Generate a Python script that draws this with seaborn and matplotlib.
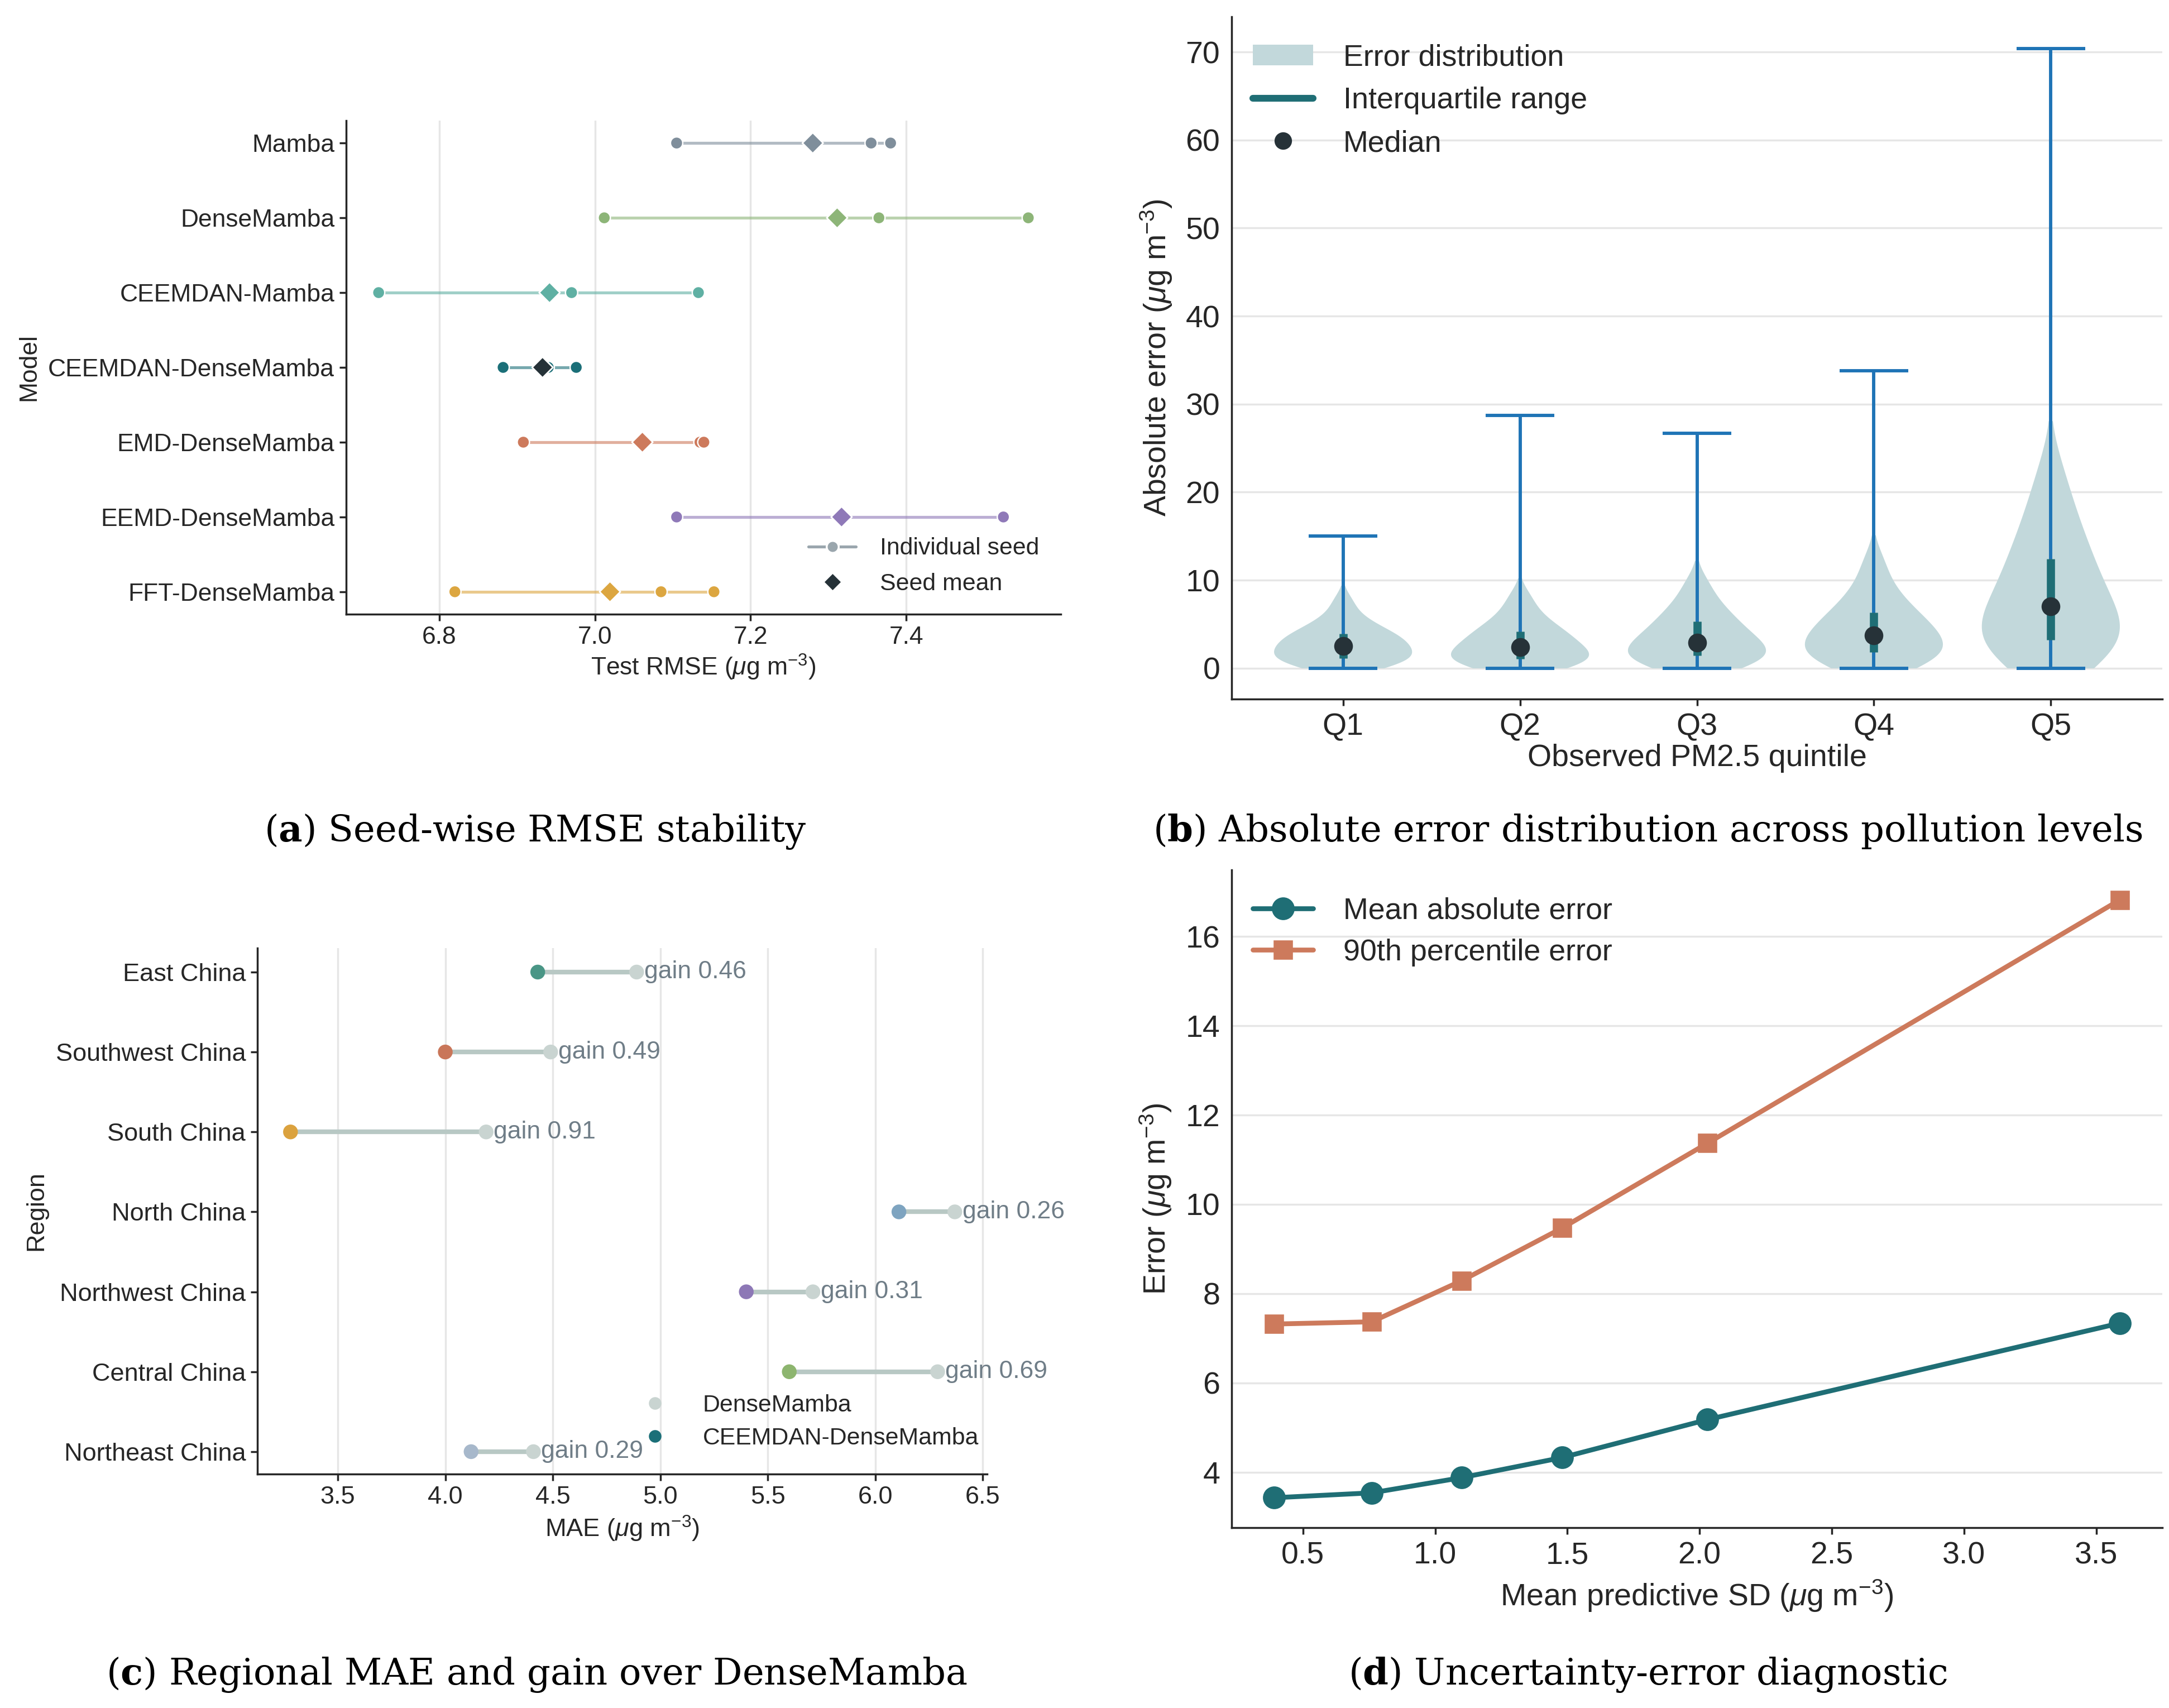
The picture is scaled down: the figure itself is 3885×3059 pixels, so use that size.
import numpy as np
import pandas as pd
import matplotlib
matplotlib.use("Agg")
import matplotlib.pyplot as plt
import seaborn as sns
from matplotlib.lines import Line2D
from matplotlib.patches import Patch, Rectangle

# ---------------- data ----------------
# (a) seed-wise RMSE
models = ["Mamba", "DenseMamba", "CEEMDAN-Mamba", "CEEMDAN-DenseMamba",
          "EMD-DenseMamba", "EEMD-DenseMamba", "FFT-DenseMamba"]
seed_1 = [7.105, 7.012, 6.722, 6.882, 6.908, 7.105, 6.820]
seed_2 = [7.355, 7.365, 6.970, 6.940, 7.135, 7.321, 7.085]
seed_3 = [7.380, 7.557, 7.133, 6.976, 7.140, 7.525, 7.153]
model_colors = ["#7f8e9b", "#8db578", "#5fb0a3", "#1b6f78",
                "#cd7a5c", "#8f79b8", "#dca640"]

# (b) absolute error by observed PM2.5 quintile
quintiles = ["Q1", "Q2", "Q3", "Q4", "Q5"]
# quantile profiles (p2.5 ... p97.5, step 5)
err_q1 = [0.10, 0.30, 0.55, 0.80, 1.00, 1.25, 1.50, 1.80, 2.05, 2.35,
          2.65, 2.95, 3.25, 3.55, 3.75, 4.15, 4.60, 5.20, 6.00, 7.60]
err_q2 = [0.08, 0.25, 0.45, 0.65, 0.85, 1.10, 1.35, 1.60, 1.90, 2.20,
          2.55, 2.90, 3.30, 3.70, 4.00, 4.45, 5.00, 5.70, 6.70, 8.20]
err_q3 = [0.10, 0.35, 0.60, 0.90, 1.15, 1.45, 1.75, 2.05, 2.40, 2.75,
          3.10, 3.50, 3.95, 4.45, 5.00, 5.55, 6.20, 7.00, 8.10, 9.80]
err_q4 = [0.15, 0.45, 0.80, 1.15, 1.50, 1.85, 2.25, 2.70, 3.15, 3.50,
          3.90, 4.35, 4.85, 5.45, 6.00, 6.60, 7.40, 8.50, 9.90, 12.2]
err_q5 = [0.40, 1.00, 1.70, 2.40, 2.90, 3.50, 4.20, 4.90, 5.70, 6.50,
          7.50, 8.50, 9.60, 10.8, 12.0, 13.3, 14.9, 16.8, 19.0, 22.5]
err_min = [0.0, 0.0, 0.0, 0.0, 0.0]
err_max = [15.0, 28.7, 26.7, 33.8, 70.4]
err_p25 = [1.1, 1.05, 1.45, 1.8, 3.2]
err_median = [2.5, 2.4, 2.9, 3.7, 7.0]
err_p75 = [3.9, 4.2, 5.3, 6.3, 12.4]

# (c) regional MAE
regions = ["East China", "Southwest China", "South China", "North China",
           "Northwest China", "Central China", "Northeast China"]
mae_dense = [4.89, 4.49, 4.19, 6.37, 5.71, 6.29, 4.41]
mae_ceemdan = [4.43, 4.00, 3.28, 6.11, 5.40, 5.60, 4.12]
region_colors = ["#4a9686", "#c97659", "#dba23e", "#7ea4c0",
                 "#8d78b6", "#8db56f", "#a7b8cb"]

# (d) uncertainty-error diagnostic
mean_sd = [0.39, 0.76, 1.10, 1.48, 2.03, 3.59]
mae_bin = [3.43, 3.54, 3.88, 4.33, 5.18, 7.34]
p90_bin = [7.32, 7.37, 8.29, 9.47, 11.37, 16.82]

# ---------------- style ----------------
sns.set_theme(style="ticks")
plt.rcParams["font.family"] = ["Liberation Sans", "DejaVu Sans"]
plt.rcParams["mathtext.fontset"] = "custom"
plt.rcParams["mathtext.rm"] = "Liberation Sans"
plt.rcParams["mathtext.it"] = "Liberation Sans:italic"
plt.rcParams["mathtext.bf"] = "DejaVu Serif:bold"
plt.rcParams["axes.edgecolor"] = "#262626"
plt.rcParams["xtick.color"] = "#262626"
plt.rcParams["ytick.color"] = "#262626"

GRID = "#e6e6e6"
W, H = 3885, 3059
fig = plt.figure(figsize=(W / 250, H / 250), dpi=250)


def rect(l, t, r, b):
    return [l / W, 1 - b / H, (r - l) / W, (b - t) / H]


ax_a = fig.add_axes(rect(620, 216, 1900, 1100))
ax_b = fig.add_axes(rect(2206, 30, 3873, 1252))
ax_c = fig.add_axes(rect(461, 1698, 1768, 2640))
ax_d = fig.add_axes(rect(2206, 1558, 3873, 2736))

for ax in (ax_a, ax_b, ax_c, ax_d):
    sns.despine(ax=ax)
    ax.set_axisbelow(True)
    for s in ("left", "bottom"):
        ax.spines[s].set_linewidth(1.0)

# ---------------- (a) ----------------
df_a = pd.DataFrame({
    "model": models * 3,
    "rmse": seed_1 + seed_2 + seed_3,
})
pal_a = dict(zip(models, model_colors))
stats = df_a.groupby("model", sort=False)["rmse"].agg(["min", "max", "mean"]).reindex(models)
for m, c in zip(models, model_colors):
    ax_a.hlines(m, stats.loc[m, "min"], stats.loc[m, "max"], color=c,
                alpha=0.6, lw=1.5, zorder=1)
sns.scatterplot(data=df_a, x="rmse", y="model", hue="model", palette=pal_a,
                s=40, edgecolor="white", linewidth=0.7, legend=False,
                zorder=3, ax=ax_a)
mean_pal = dict(pal_a)
mean_pal["CEEMDAN-DenseMamba"] = "#263238"
df_mean = stats.reset_index()
sns.scatterplot(data=df_mean, x="mean", y="model", hue="model", palette=mean_pal,
                marker="D", s=58, edgecolor="white", linewidth=0.8,
                legend=False, zorder=4, ax=ax_a)
ax_a.set_ylim(6.3, -0.3)
ax_a.margins(x=0.05)
ax_a.set_xticks([6.8, 7.0, 7.2, 7.4])
ax_a.xaxis.grid(True, color=GRID, lw=1.0)
ax_a.set_xlabel(r"Test RMSE ($\mu$g m$^{-3}$)", fontsize=12.8, labelpad=2)
ax_a.set_ylabel("Model", fontsize=12.8, labelpad=4)
ax_a.tick_params(labelsize=12.8, length=3.5, width=1.0, pad=2.5)
leg_a = [
    Line2D([0], [0], color="#9aa6ad", lw=1.5, marker="o", markersize=6.2,
           markerfacecolor="#9aa6ad", markeredgecolor="white"),
    Line2D([0], [0], color="none", marker="D", markersize=6.8,
           markerfacecolor="#263238", markeredgecolor="white"),
]
ax_a.legend(leg_a, ["Individual seed", "Seed mean"], loc="lower right",
            bbox_to_anchor=(1.0, -0.005), frameon=False, fontsize=12.3,
            handlelength=2.0, handletextpad=1.0, labelspacing=0.55)

# ---------------- (b) ----------------
df_b = pd.DataFrame({
    "quintile": np.repeat(quintiles, len(err_q1)),
    "err": err_q1 + err_q2 + err_q3 + err_q4 + err_q5,
})
sns.violinplot(data=df_b, x="quintile", y="err", order=quintiles,
               density_norm="width", width=0.78, cut=1.6, inner=None,
               color="#c2d8db", saturation=1, linewidth=0, ax=ax_b)
clip_rect = Rectangle((-1, 0), 7, 200, transform=ax_b.transData)
for coll in ax_b.collections:
    coll.set_edgecolor("none")
    coll.set_zorder(1)
    coll.set_clip_path(clip_rect)
xs = np.arange(len(quintiles))
ax_b.vlines(xs, err_min, err_max, color="#1f74b6", lw=1.7, zorder=2)
ax_b.hlines(err_max, xs - 0.195, xs + 0.195, color="#1f74b6", lw=1.7, zorder=2)
ax_b.hlines(err_min, xs - 0.195, xs + 0.195, color="#1f74b6", lw=1.7, zorder=2)
ax_b.vlines(xs, err_p25, err_p75, color="#1f6e75", lw=4.2, zorder=3)
ax_b.scatter(xs, err_median, s=75, color="#263238", zorder=4)
ax_b.set_xlim(-0.63, 4.63)
ax_b.set_ylim(-3.5, 74.0)
ax_b.set_yticks(range(0, 71, 10))
ax_b.yaxis.grid(True, color=GRID, lw=1.0)
ax_b.set_xlabel("Observed PM2.5 quintile", fontsize=16, labelpad=1)
ax_b.set_ylabel(r"Absolute error ($\mu$g m$^{-3}$)", fontsize=16, labelpad=6)
ax_b.tick_params(labelsize=16, length=3.5, width=1.0)
ax_b.tick_params(axis="y", length=0, pad=6)
leg_b = [
    Patch(facecolor="#c2d8db", edgecolor="none"),
    Line2D([0], [0], color="#1f6e75", lw=3.5),
    Line2D([0], [0], color="none", marker="o", markersize=8,
           markerfacecolor="#263238", markeredgecolor="#263238"),
]
ax_b.legend(leg_b, ["Error distribution", "Interquartile range", "Median"],
            loc="upper left", bbox_to_anchor=(-0.006, 1.0), frameon=False,
            fontsize=15.5, handlelength=2.0, handletextpad=1.0,
            labelspacing=0.5)

# ---------------- (c) ----------------
df_c = pd.DataFrame({"region": regions, "dense": mae_dense,
                     "ceemdan": mae_ceemdan})
df_c["gain"] = df_c["dense"] - df_c["ceemdan"]
ax_c.hlines(df_c["region"], df_c["ceemdan"], df_c["dense"], color="#b8c8c4",
            lw=2.4, zorder=1)
sns.scatterplot(data=df_c, x="dense", y="region", color="#c9d4d1", s=58,
                edgecolor="none", legend=False, zorder=3, ax=ax_c)
sns.scatterplot(data=df_c, x="ceemdan", y="region", hue="region",
                palette=dict(zip(regions, region_colors)), s=58,
                edgecolor="none", legend=False, zorder=3, ax=ax_c)
for i, row in df_c.iterrows():
    ax_c.text(row["dense"] + 0.035, i, f"gain {row['gain']:.2f}",
              va="center", ha="left", fontsize=12.8, color="#6f7d87")
ax_c.set_xlim(3.126, 6.52)
ax_c.set_ylim(6.28, -0.3)
ax_c.set_xticks(np.arange(3.5, 6.51, 0.5))
ax_c.xaxis.grid(True, color=GRID, lw=1.0)
ax_c.set_xlabel(r"MAE ($\mu$g m$^{-3}$)", fontsize=13, labelpad=3)
ax_c.set_ylabel("Region", fontsize=13, labelpad=4)
ax_c.tick_params(labelsize=13, length=3.5, width=1.0, pad=2.5)
leg_c = [
    Line2D([0], [0], color="none", marker="o", markersize=6.5,
           markerfacecolor="#c9d4d1", markeredgecolor="none"),
    Line2D([0], [0], color="none", marker="o", markersize=6.5,
           markerfacecolor="#1b6f78", markeredgecolor="none"),
]
ax_c.legend(leg_c, ["DenseMamba", "CEEMDAN-DenseMamba"], loc="lower left",
            bbox_to_anchor=(0.483, 0.006), frameon=False, fontsize=12.3,
            handlelength=2.0, handletextpad=1.0, labelspacing=0.45)

# ---------------- (d) ----------------
df_d = pd.DataFrame({"sd": mean_sd, "mae": mae_bin, "p90": p90_bin})
sns.lineplot(data=df_d, x="sd", y="mae", color="#1f6e75", lw=2.5,
             marker="o", markersize=11, markeredgecolor="#1f6e75",
             label="Mean absolute error", ax=ax_d)
sns.lineplot(data=df_d, x="sd", y="p90", color="#cd7a5c", lw=2.5,
             marker="s", markersize=9.5, markeredgecolor="#cd7a5c",
             label="90th percentile error", ax=ax_d)
ax_d.margins(0.05)
ax_d.set_xticks(np.arange(0.5, 3.51, 0.5))
ax_d.set_yticks([4, 6, 8, 10, 12, 14, 16])
ax_d.yaxis.grid(True, color=GRID, lw=1.0)
ax_d.set_xlabel(r"Mean predictive SD ($\mu$g m$^{-3}$)", fontsize=16, labelpad=4)
ax_d.set_ylabel(r"Error ($\mu$g m$^{-3}$)", fontsize=16, labelpad=6)
ax_d.tick_params(labelsize=16, length=3.5, width=1.0)
ax_d.tick_params(axis="y", length=0, pad=6)
ax_d.legend(loc="upper left", bbox_to_anchor=(-0.006, 1.0), frameon=False,
            fontsize=15.5, handlelength=2.0, handletextpad=1.0,
            labelspacing=0.45)

# ---------------- captions ----------------
cap_kw = dict(family="DejaVu Serif", fontsize=18.9, ha="center", va="center",
              color="#000000")
fig.text(959 / W, 1 - 1489 / H, r"($\mathbf{a}$) Seed-wise RMSE stability", **cap_kw)
fig.text(2951 / W, 1 - 1489 / H,
         r"($\mathbf{b}$) Absolute error distribution across pollution levels", **cap_kw)
fig.text(961 / W, 1 - 3000 / H,
         r"($\mathbf{c}$) Regional MAE and gain over DenseMamba", **cap_kw)
fig.text(2951 / W, 1 - 3000 / H,
         r"($\mathbf{d}$) Uncertainty-error diagnostic", **cap_kw)

fig.savefig("out.png", dpi=250, facecolor="white")
